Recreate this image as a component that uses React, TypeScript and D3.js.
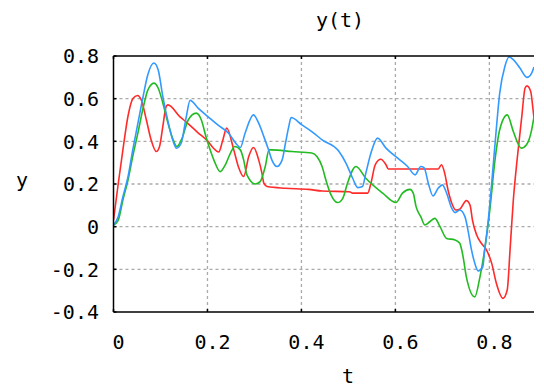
import React from "react";
import * as d3 from "d3";

const xTicks = [0, 0.2, 0.4, 0.6, 0.8];
const yTicks = [-0.4, -0.2, 0, 0.2, 0.4, 0.6, 0.8];
const xTickLabels = ["0", "0.2", "0.4", "0.6", "0.8"];
const yTickLabels = ["-0.4", "-0.2", "0", "0.2", "0.4", "0.6", "0.8"];

const redT = [0, 0.01, 0.02, 0.031, 0.041, 0.051, 0.059, 0.07, 0.08, 0.091, 0.098, 0.105, 0.112, 0.116, 0.141, 0.155, 0.18, 0.201, 0.212, 0.224, 0.232, 0.241, 0.256, 0.266, 0.277, 0.288, 0.298, 0.309, 0.316, 0.32, 0.327, 0.366, 0.415, 0.444, 0.502, 0.509, 0.541, 0.548, 0.557, 0.569, 0.58, 0.585, 0.629, 0.691, 0.698, 0.705, 0.712, 0.72, 0.729, 0.737, 0.751, 0.759, 0.764, 0.773, 0.783, 0.794, 0.805, 0.815, 0.829, 0.838, 0.844, 0.851, 0.859, 0.869, 0.876, 0.88, 0.888, 0.893, 0.895];
const redY = [0.03, 0.2, 0.36, 0.52, 0.6, 0.615, 0.595, 0.5, 0.407, 0.352, 0.376, 0.47, 0.563, 0.571, 0.516, 0.49, 0.44, 0.4, 0.37, 0.35, 0.4, 0.462, 0.36, 0.28, 0.235, 0.33, 0.371, 0.313, 0.25, 0.204, 0.188, 0.18, 0.175, 0.167, 0.164, 0.157, 0.157, 0.204, 0.29, 0.316, 0.29, 0.27, 0.27, 0.27, 0.29, 0.25, 0.172, 0.11, 0.078, 0.082, 0.122, 0.1, 0.031, -0.039, -0.078, -0.11, -0.172, -0.266, -0.336, -0.297, -0.11, 0.125, 0.313, 0.516, 0.65, 0.66, 0.634, 0.548, 0.51];

const greenT = [0, 0.01, 0.02, 0.031, 0.041, 0.052, 0.063, 0.073, 0.086, 0.095, 0.105, 0.116, 0.127, 0.135, 0.146, 0.159, 0.176, 0.187, 0.197, 0.208, 0.215, 0.227, 0.238, 0.249, 0.258, 0.27, 0.277, 0.284, 0.302, 0.312, 0.323, 0.331, 0.337, 0.38, 0.422, 0.433, 0.444, 0.452, 0.463, 0.477, 0.488, 0.498, 0.516, 0.537, 0.573, 0.601, 0.615, 0.631, 0.638, 0.644, 0.654, 0.663, 0.673, 0.684, 0.695, 0.709, 0.727, 0.737, 0.744, 0.751, 0.769, 0.78, 0.79, 0.801, 0.812, 0.822, 0.838, 0.851, 0.868, 0.879, 0.89, 0.895];
const greenY = [0.008, 0.03, 0.125, 0.22, 0.33, 0.44, 0.556, 0.64, 0.673, 0.65, 0.58, 0.485, 0.407, 0.376, 0.415, 0.5, 0.532, 0.5, 0.42, 0.345, 0.305, 0.258, 0.29, 0.345, 0.376, 0.36, 0.313, 0.243, 0.2, 0.211, 0.282, 0.36, 0.36, 0.352, 0.345, 0.329, 0.282, 0.219, 0.149, 0.113, 0.133, 0.204, 0.282, 0.227, 0.157, 0.113, 0.157, 0.175, 0.157, 0.094, 0.047, 0.008, 0.023, 0.039, 0.0, -0.055, -0.062, -0.078, -0.14, -0.235, -0.329, -0.235, -0.109, 0.078, 0.313, 0.454, 0.524, 0.446, 0.368, 0.384, 0.454, 0.516];

const blueT = [0, 0.01, 0.02, 0.031, 0.041, 0.052, 0.063, 0.073, 0.086, 0.095, 0.105, 0.116, 0.127, 0.134, 0.144, 0.155, 0.163, 0.18, 0.201, 0.222, 0.245, 0.263, 0.27, 0.28, 0.298, 0.309, 0.32, 0.33, 0.337, 0.348, 0.359, 0.366, 0.373, 0.378, 0.401, 0.422, 0.444, 0.48, 0.495, 0.509, 0.52, 0.53, 0.537, 0.548, 0.562, 0.58, 0.605, 0.626, 0.642, 0.654, 0.661, 0.67, 0.68, 0.691, 0.7, 0.709, 0.72, 0.727, 0.737, 0.748, 0.755, 0.762, 0.769, 0.776, 0.786, 0.79, 0.797, 0.805, 0.814, 0.822, 0.833, 0.842, 0.851, 0.865, 0.88, 0.89, 0.895];
const blueY = [0.008, 0.047, 0.14, 0.235, 0.36, 0.485, 0.61, 0.712, 0.767, 0.736, 0.61, 0.493, 0.4, 0.368, 0.391, 0.516, 0.592, 0.556, 0.516, 0.477, 0.438, 0.384, 0.371, 0.438, 0.524, 0.485, 0.422, 0.36, 0.313, 0.282, 0.313, 0.391, 0.469, 0.512, 0.477, 0.446, 0.407, 0.352, 0.297, 0.227, 0.183, 0.188, 0.25, 0.345, 0.415, 0.368, 0.321, 0.282, 0.243, 0.282, 0.277, 0.204, 0.144, 0.18, 0.196, 0.157, 0.086, 0.066, 0.078, 0.047, -0.023, -0.109, -0.172, -0.207, -0.188, -0.109, 0.016, 0.204, 0.438, 0.626, 0.751, 0.795, 0.783, 0.744, 0.7, 0.72, 0.748];

const series = [
  { name: "red", t: redT, y: redY, color: "#ff2a2a" },
  { name: "green", t: greenT, y: greenY, color: "#22bb22" },
  { name: "blue", t: blueT, y: blueY, color: "#3399ff" },
];

const W = 544;
const H = 389;
const left = 113.5;
const right = 534;
const top = 56;
const bottom = 312;
const FONT = "'DejaVu Sans Mono', monospace";

export default function App() {
  const x = d3.scaleLinear().domain([0, 0.895]).range([left, right]);
  const y = d3.scaleLinear().domain([-0.4, 0.8]).range([bottom, top]);
  const line = d3
    .line<[number, number]>()
    .x((d) => x(d[0]))
    .y((d) => y(d[1]))
    .curve(d3.curveMonotoneX);

  return (
    <svg
      width={W}
      height={H}
      style={{ position: "absolute", left: 0, top: 0, background: "#fff" }}
    >
      <defs>
        <clipPath id="plotclip">
          <rect x={left} y={top - 2} width={right - left} height={bottom - top + 4} />
        </clipPath>
      </defs>
      {yTicks
        .filter((v) => v > -0.4 && v < 0.8)
        .map((v) => (
          <line
            key={"gy" + v}
            x1={left}
            x2={right}
            y1={y(v)}
            y2={y(v)}
            stroke="#aaaaaa"
            strokeWidth={1.3}
            strokeDasharray="3 3"
          />
        ))}
      {xTicks
        .filter((v) => v > 0)
        .map((v) => (
          <line
            key={"gx" + v}
            x1={x(v)}
            x2={x(v)}
            y1={top}
            y2={bottom}
            stroke="#aaaaaa"
            strokeWidth={1.3}
            strokeDasharray="3 3"
          />
        ))}
      <g clipPath="url(#plotclip)">
        {series.map((s) => (
          <path
            key={s.name}
            d={line(s.t.map((t, i) => [t, s.y[i]] as [number, number])) || ""}
            fill="none"
            stroke={s.color}
            strokeWidth={1.6}
            strokeLinejoin="round"
          />
        ))}
      </g>
      <line x1={left} x2={right} y1={top} y2={top} stroke="#000" strokeWidth={1.5} />
      <line x1={left} x2={right} y1={bottom} y2={bottom} stroke="#000" strokeWidth={1.5} />
      <line x1={left} x2={left} y1={top} y2={bottom} stroke="#000" strokeWidth={1.5} />
      {xTicks.map((v) => (
        <g key={"xt" + v}>
          <line x1={x(v)} x2={x(v)} y1={top} y2={top + 3} stroke="#000" strokeWidth={1.5} />
          <line x1={x(v)} x2={x(v)} y1={bottom} y2={bottom - 3} stroke="#000" strokeWidth={1.5} />
        </g>
      ))}
      {yTicks.map((v) => (
        <line key={"yt" + v} x1={left} x2={left + 3} y1={y(v)} y2={y(v)} stroke="#000" strokeWidth={1.5} />
      ))}
      {xTicks.map((v, i) => (
        <text
          key={"xl" + v}
          x={x(v) + 5}
          y={348.5}
          textAnchor="middle"
          fontFamily={FONT}
          fontSize={20}
          fill="#000"
        >
          {xTickLabels[i]}
        </text>
      ))}
      {yTicks.map((v, i) => (
        <text
          key={"yl" + v}
          x={99}
          y={y(v) + 7.3}
          textAnchor="end"
          fontFamily={FONT}
          fontSize={20}
          fill="#000"
        >
          {yTickLabels[i]}
        </text>
      ))}
      <text x={340} y={26.5} textAnchor="middle" fontFamily={FONT} fontSize={20} fill="#000">
        y(t)
      </text>
      <text x={348} y={383} textAnchor="middle" fontFamily={FONT} fontSize={20} fill="#000">
        t
      </text>
      <text x={22} y={187} textAnchor="middle" fontFamily={FONT} fontSize={20} fill="#000">
        y
      </text>
    </svg>
  );
}
